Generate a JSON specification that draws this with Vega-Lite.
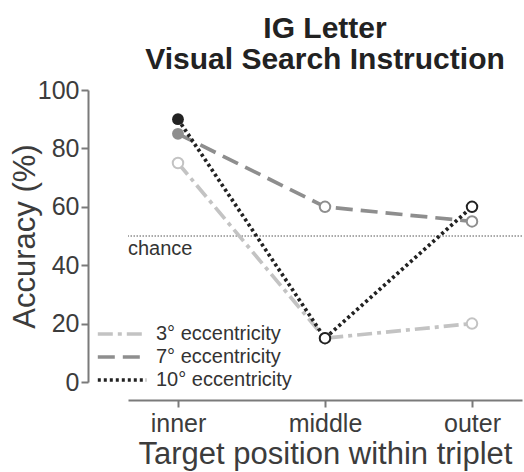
{
  "$schema": "https://vega.github.io/schema/vega-lite/v6.json",
  "width": 394,
  "height": 292,
  "autosize": {"type": "none"},
  "padding": {"left": 128, "top": 90, "right": 2, "bottom": 90},
  "background": "white",
  "config": {
    "font": "Liberation Sans",
    "view": {"stroke": null},
    "axis": {
      "domainColor": "#7a7a7a",
      "domainWidth": 2,
      "tickColor": "#7a7a7a",
      "tickWidth": 2,
      "tickSize": 7,
      "labelFontSize": 25,
      "labelColor": "#3c3c3c",
      "titleFontSize": 31,
      "titleFontWeight": "normal",
      "titleColor": "#3c3c3c",
      "grid": false
    }
  },
  "title": {
    "text": ["IG Letter", "Visual Search Instruction"],
    "fontSize": 30,
    "fontWeight": "bold",
    "color": "#222222",
    "anchor": "middle",
    "lineHeight": 31,
    "offset": 3
  },
  "datasets": {
    "acc": [
      {"series": "3° eccentricity", "position": "inner", "accuracy": 75},
      {"series": "3° eccentricity", "position": "middle", "accuracy": 15},
      {"series": "3° eccentricity", "position": "outer", "accuracy": 20},
      {"series": "7° eccentricity", "position": "inner", "accuracy": 85},
      {"series": "7° eccentricity", "position": "middle", "accuracy": 60},
      {"series": "7° eccentricity", "position": "outer", "accuracy": 55},
      {"series": "10° eccentricity", "position": "inner", "accuracy": 90},
      {"series": "10° eccentricity", "position": "middle", "accuracy": 15},
      {"series": "10° eccentricity", "position": "outer", "accuracy": 60}
    ],
    "chance": [{"label": "chance", "level": 50}]
  },
  "layer": [
    {
      "data": {"name": "chance"},
      "mark": {"type": "rule", "color": "#555555", "strokeWidth": 1, "strokeDash": [1.5, 1.5]},
      "encoding": {
        "y": {"field": "level", "type": "quantitative"}
      }
    },
    {
      "data": {"name": "chance"},
      "mark": {"type": "text", "align": "left", "baseline": "top", "dy": 3, "fontSize": 20, "color": "#333333"},
      "encoding": {
        "x": {"value": 0},
        "y": {"field": "level", "type": "quantitative"},
        "text": {"field": "label"}
      }
    },
    {
      "data": {"name": "acc"},
      "mark": {"type": "line", "strokeWidth": 3.7},
      "encoding": {
        "x": {
          "field": "position", "type": "nominal", "sort": ["inner", "middle", "outer"],
          "scale": {"type": "point", "padding": 0.34},
          "axis": {"title": "Target position within triplet", "offset": 18, "labelAngle": 0, "labelPadding": 4, "titlePadding": 3}
        },
        "y": {
          "field": "accuracy", "type": "quantitative",
          "scale": {"domain": [0, 100]},
          "axis": {"title": "Accuracy (%)", "offset": 40, "values": [0, 20, 40, 60, 80, 100], "labelPadding": 2, "titlePadding": -4}
        },
        "color": {
          "field": "series", "type": "nominal",
          "scale": {"domain": ["3° eccentricity", "7° eccentricity", "10° eccentricity"], "range": ["#c3c3c3", "#8e8e8e", "#222222"]},
          "legend": {
            "title": null,
            "orient": "none",
            "legendX": -19,
            "legendY": 231,
            "symbolType": "M-2.2,0H2.2",
            "symbolSize": 484,
            "symbolStrokeWidth": 3.7,
            "labelFontSize": 20,
            "labelColor": "#333333",
            "labelOffset": 21,
            "rowPadding": 0,
            "padding": 0
          }
        },
        "strokeDash": {
          "field": "series", "type": "nominal",
          "scale": {"domain": ["3° eccentricity", "7° eccentricity", "10° eccentricity"], "range": [[15, 5, 4, 5], [17, 8], [3, 3]]},
          "legend": {
            "title": null,
            "orient": "none",
            "legendX": -19,
            "legendY": 231,
            "symbolType": "M-2.2,0H2.2",
            "symbolSize": 484,
            "symbolStrokeWidth": 3.7,
            "labelFontSize": 20,
            "labelColor": "#333333",
            "labelOffset": 21,
            "rowPadding": 0,
            "padding": 0
          }
        }
      }
    },
    {
      "data": {"name": "acc"},
      "transform": [{"filter": "datum.position === 'inner' && datum.series !== '3° eccentricity'"}],
      "mark": {"type": "point", "filled": true, "size": 140, "opacity": 1, "strokeWidth": 0},
      "encoding": {
        "x": {"field": "position", "type": "nominal", "sort": ["inner", "middle", "outer"]},
        "y": {"field": "accuracy", "type": "quantitative"},
        "fill": {
          "field": "series", "type": "nominal",
          "scale": {"domain": ["3° eccentricity", "7° eccentricity", "10° eccentricity"], "range": ["#c3c3c3", "#8e8e8e", "#222222"]},
          "legend": null
        }
      }
    },
    {
      "data": {"name": "acc"},
      "transform": [{"filter": "datum.position !== 'inner' || datum.series === '3° eccentricity'"}],
      "mark": {"type": "point", "filled": true, "fill": "white", "size": 110, "opacity": 1, "strokeWidth": 2},
      "encoding": {
        "x": {"field": "position", "type": "nominal", "sort": ["inner", "middle", "outer"]},
        "y": {"field": "accuracy", "type": "quantitative"},
        "stroke": {
          "field": "series", "type": "nominal",
          "scale": {"domain": ["3° eccentricity", "7° eccentricity", "10° eccentricity"], "range": ["#c3c3c3", "#8e8e8e", "#222222"]},
          "legend": null
        }
      }
    }
  ]
}
